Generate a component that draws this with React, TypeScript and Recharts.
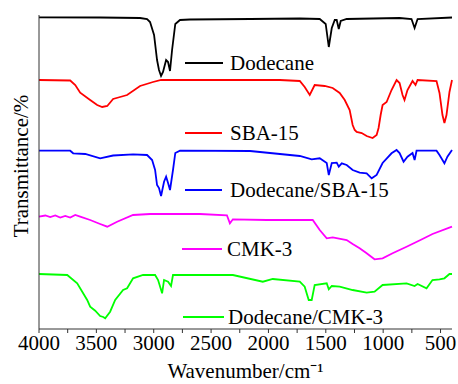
import React from 'react';
import { Customized, Line, LineChart, XAxis, YAxis } from 'recharts';

// FTIR spectra, [wavenumber cm-1, transmittance (offset, a.u.)]
const dodecane: [number, number][] = [
    [4000, 311.7], [3467, 311.5], [3119, 311], [3058, 310], [3032, 307], [2997, 294], [2971, 269],
    [2954, 259], [2936, 253], [2919, 257], [2892, 269], [2875, 267], [2858, 258], [2840, 279],
    [2812, 305], [2771, 309], [2684, 309.5], [2160, 310], [1727, 310.5], [1553, 310], [1501, 305],
    [1474, 282], [1448, 301], [1422, 309], [1405, 309], [1387, 300], [1370, 308], [1318, 310],
    [857, 311], [753, 310], [726, 301], [700, 310], [400, 311.5],
];

const sba15: [number, number][] = [
    [4000, 249], [3728, 248.5], [3684, 244], [3641, 236.3], [3554, 229], [3493, 224], [3449, 222],
    [3405, 223], [3354, 230], [3293, 232], [3232, 234], [3119, 243], [3006, 247], [2936, 249],
    [2597, 249], [1901, 249], [1727, 248], [1684, 242], [1640, 234], [1597, 244], [1510, 243],
    [1440, 241], [1379, 236], [1335, 229], [1292, 219], [1266, 204], [1248, 199], [1231, 197],
    [1187, 196], [1144, 193], [1092, 191], [1057, 194], [1040, 201], [1022, 214], [1005, 224],
    [970, 227], [927, 239], [883, 249], [857, 246], [831, 234], [814, 229], [788, 239], [744, 248],
    [718, 244], [700, 249], [535, 248], [509, 236], [483, 214], [466, 206], [448, 214], [422, 237],
    [400, 249],
];

const dodecaneSba15: [number, number][] = [
    [4000, 178.3], [3728, 178.3], [3702, 175.7], [3597, 175], [3467, 170.7], [3354, 173.5],
    [3180, 174.7], [3058, 174], [3014, 169], [2988, 159], [2971, 144], [2954, 141], [2936, 133],
    [2910, 147.3], [2892, 152.3], [2875, 146], [2858, 139], [2832, 159], [2812, 176], [2771, 178.3],
    [2160, 178], [1727, 173], [1623, 169.7], [1553, 170.7], [1492, 166], [1474, 154], [1448, 166],
    [1405, 166.3], [1387, 162.3], [1361, 165.7], [1318, 164], [1266, 159], [1205, 156.3],
    [1144, 155.7], [1100, 150.7], [1057, 154], [1005, 166], [927, 175.7], [883, 179], [857, 176],
    [822, 167.3], [788, 172.3], [744, 176], [726, 169], [709, 178.3], [535, 178.3], [509, 174],
    [466, 165.7], [440, 172.3], [400, 179],
];

const cmk3: [number, number][] = [
    [4000, 112.3], [3945, 113.5], [3902, 112], [3858, 113.5], [3815, 111.5], [3771, 113],
    [3728, 111.5], [3684, 114], [3641, 112.3], [3554, 109], [3467, 105], [3405, 102.3],
    [3319, 107.3], [3180, 114], [3032, 115], [2597, 115], [2362, 113.7], [2336, 105.7],
    [2310, 109.7], [2014, 109], [1614, 109], [1553, 99], [1492, 90.7], [1440, 91.7], [1318, 89],
    [1266, 85], [1205, 80.7], [1144, 75.7], [1075, 69.7], [1005, 70.7], [918, 75.7], [796, 82.3],
    [657, 90], [570, 95], [400, 102.3],
];

const dodecaneCmk3: [number, number][] = [
    [4000, 55], [3754, 54], [3667, 45.7], [3580, 29], [3554, 22.3], [3510, 18.3], [3467, 13],
    [3440, 12], [3423, 10.7], [3380, 17.3], [3336, 29], [3267, 39], [3232, 40.7], [3180, 50.7],
    [3093, 54], [2988, 54], [2962, 49], [2927, 35.7], [2910, 49], [2875, 47.3], [2849, 43],
    [2832, 54], [2310, 54], [2049, 47.3], [1962, 50], [1727, 47.3], [1684, 42.3], [1649, 29],
    [1623, 29], [1597, 44], [1492, 45.7], [1474, 39.7], [1448, 43], [1379, 42.3], [1266, 39],
    [1144, 36.3], [1075, 37.3], [1005, 44], [796, 45.7], [726, 43], [700, 45], [622, 40.7],
    [570, 49], [509, 49.7], [466, 50.7], [422, 55], [400, 55],
];

const names = ['Dodecane', 'SBA-15', 'Dodecane/SBA-15', 'CMK-3', 'Dodecane/CMK-3'];
const colors = ['#000000', '#ff0000', '#0000ff', '#ff00ff', '#00ff00'];
const spectra = [dodecane, sba15, dodecaneSba15, cmk3, dodecaneCmk3];

const xTicks = [4000, 3750, 3500, 3250, 3000, 2750, 2500, 2250, 2000, 1750, 1500, 1250, 1000, 750, 500];

// where each inline label sits (line start/end x, line y, text x)
const legendPos = [
    { x1: 185, x2: 223, y: 63, tx: 230 },
    { x1: 185, x2: 222, y: 133, tx: 230 },
    { x1: 185, x2: 222, y: 190, tx: 230 },
    { x1: 182, x2: 222, y: 249, tx: 227 },
    { x1: 183, x2: 224, y: 317, tx: 228 },
];

const FONT = 'Liberation Serif';
const textStyle = { fontFamily: FONT, fontSize: 21 };

const InlineLegend = () => (
    <g>
        {legendPos.map((p, i) => (
            <g key={names[i]}>
                <line x1={p.x1} x2={p.x2} y1={p.y} y2={p.y} stroke={colors[i]} strokeWidth={2} />
                <text x={p.tx} y={p.y + 7} style={textStyle} fill="#000">
                    {names[i]}
                </text>
            </g>
        ))}
    </g>
);

const App = () => {
    return (
        <div style={{ position: 'absolute', left: 0, top: 0, fontFamily: FONT }}>
            <LineChart
                width={458}
                height={384}
                margin={{ top: 15, right: 6, left: 0, bottom: 0 }}
                style={{ fontFamily: FONT }}
            >
                <XAxis
                    xAxisId="main"
                    type="number"
                    dataKey="w"
                    domain={[400, 4000]}
                    reversed
                    ticks={xTicks}
                    interval={0}
                    tickSize={4}
                    height={55}
                    stroke="#333"
                    tickFormatter={(v: number) => (v % 500 === 0 ? `${v}` : '')}
                    tick={{ fill: '#000', fontSize: 21, fontFamily: FONT }}
                    label={{
                        value: 'Wavenumber/cm⁻¹',
                        position: 'insideBottom',
                        offset: 6,
                        fill: '#000',
                        fontSize: 21,
                        fontFamily: FONT,
                    }}
                />
                <XAxis
                    xAxisId="top"
                    orientation="top"
                    type="number"
                    domain={[400, 4000]}
                    reversed
                    height={0}
                    tick={false}
                    tickLine={false}
                    stroke="#777"
                />
                <YAxis
                    yAxisId="main"
                    type="number"
                    domain={[0, 314]}
                    width={39}
                    tick={false}
                    tickLine={false}
                    stroke="#333"
                    label={{
                        content: () => (
                            <text
                                x={21}
                                y={166}
                                transform="rotate(-90 21 166)"
                                textAnchor="middle"
                                dominantBaseline="central"
                                style={textStyle}
                                fill="#000"
                            >
                                Transmittance/%
                            </text>
                        ),
                    }}
                />
                <YAxis
                    yAxisId="right"
                    orientation="right"
                    domain={[0, 314]}
                    width={0}
                    tick={false}
                    tickLine={false}
                    stroke="#777"
                />
                {spectra.map((s, i) => (
                    <Line
                        key={names[i]}
                        xAxisId="main"
                        yAxisId="main"
                        data={s.map(([w, t]) => ({ w, t }))}
                        dataKey="t"
                        type="linear"
                        stroke={colors[i]}
                        strokeWidth={1.8}
                        dot={false}
                        isAnimationActive={false}
                    />
                ))}
                <Customized component={InlineLegend} />
            </LineChart>
        </div>
    );
};

export default App;
